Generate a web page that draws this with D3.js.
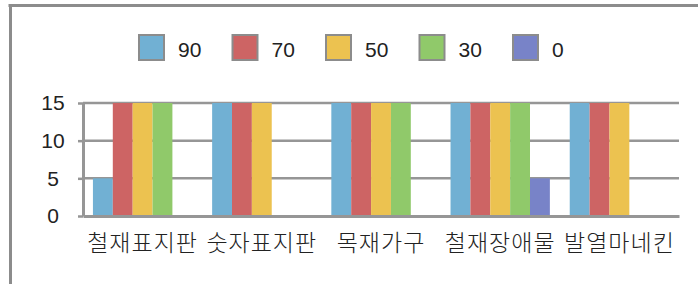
<!DOCTYPE html>
<html>
<head>
<meta charset="utf-8">
<script src="https://cdn.jsdelivr.net/npm/d3@7"></script>
<style>
  body { margin: 0; background: #fff; }
  svg { display: block; }
</style>
</head>
<body>
<div class="chart"></div>
<script>
const categories = ["철재표지판", "숫자표지판", "목재가구", "철재장애물", "발열마네킨"]
const seriesNames = ["90", "70", "50", "30", "0"]
const values90 = [5, 15, 15, 15, 15]
const values70 = [15, 15, 15, 15, 15]
const values50 = [15, 15, 15, 15, 15]
const values30 = [15, 0, 15, 15, 0]
const values0 = [0, 0, 0, 5, 0]
const yTicks = [0, 5, 10, 15]

const seriesValues = [values90, values70, values50, values30, values0]
const colors = ["#71b0d3", "#cd6464", "#ecc250", "#90c96a", "#7883c8"]
const grey = "#969696"

const width = 698
const height = 284
const margin = { top: 103, right: 19, bottom: 68, left: 83 }

const svg = d3.select(".chart").append("svg").attr("width", width).attr("height", height)

// frame (only top and left edges are visible)
svg.append("line").attr("x1", 8.5).attr("x2", width).attr("y1", 5.5).attr("y2", 5.5)
  .attr("stroke", "#8c8c8c").attr("stroke-width", 3)
svg.append("line").attr("x1", 10.5).attr("x2", 10.5).attr("y1", 4).attr("y2", height)
  .attr("stroke", "#8c8c8c").attr("stroke-width", 3)

const x0 = d3.scaleBand().domain(categories).range([margin.left, width - margin.right])
const x1 = d3.scaleBand().domain(seriesNames).range([0, x0.bandwidth()]).paddingOuter(0.5)
const yScale = d3.scaleLinear().domain([0, 15]).range([height - margin.bottom, margin.top])

// gridlines
svg.append("g").selectAll("line").data(yTicks.filter(d => d > 0)).join("line")
  .attr("x1", margin.left).attr("x2", width - margin.right)
  .attr("y1", d => yScale(d)).attr("y2", d => yScale(d))
  .attr("stroke", grey).attr("stroke-width", 2.5)

// bars
const groups = svg.append("g").selectAll("g").data(categories).join("g")
  .attr("transform", d => `translate(${x0(d)},0)`)

groups.selectAll("rect")
  .data((c, ci) => seriesNames.map((s, si) => ({ s, si, v: seriesValues[si][ci] })))
  .join("rect")
  .attr("x", d => x1(d.s))
  .attr("width", x1.bandwidth())
  .attr("y", d => yScale(d.v))
  .attr("height", d => yScale(0) - yScale(d.v))
  .attr("fill", d => colors[d.si])

// y axis
const yAxis = d3.axisLeft(yScale).tickValues(yTicks).tickSizeInner(5).tickSizeOuter(0).tickFormat(d3.format("d"))
const yAxisGroup = svg.append("g").attr("transform", `translate(${margin.left},0)`).call(yAxis)
yAxisGroup.select(".domain").attr("stroke", grey).attr("stroke-width", 3)
yAxisGroup.selectAll(".tick line").attr("stroke", grey).attr("stroke-width", 2.5)
yAxisGroup.selectAll(".tick text")
  .attr("x", -30).attr("text-anchor", "middle")
  .attr("font-family", "'Liberation Sans', Arial, sans-serif").attr("font-size", 21)
  .attr("fill", "#222")

// x axis
const xAxis = d3.axisBottom(x0).tickSize(0).tickPadding(0)
const xAxisGroup = svg.append("g").attr("transform", `translate(0,${yScale(0)})`).call(xAxis)
xAxisGroup.select(".domain").attr("stroke", grey).attr("stroke-width", 3)
xAxisGroup.selectAll(".tick text")
  .attr("y", 35).attr("dy", 0)
  .attr("font-family", "'Noto Sans CJK KR', sans-serif").attr("font-size", 23)
  .attr("font-weight", 300).attr("letter-spacing", 1)
  .attr("fill", "#222")

// legend
const legend = svg.append("g").selectAll("g").data(seriesNames).join("g")
  .attr("transform", (d, i) => `translate(${138 + i * 93.5},34)`)
legend.append("rect").attr("x", 1).attr("y", 1).attr("width", 25).attr("height", 25)
  .attr("fill", (d, i) => colors[i]).attr("stroke", "#8c8c8c").attr("stroke-width", 2)
legend.append("text").attr("x", 40).attr("y", 22.5).text(d => d)
  .attr("font-family", "'Liberation Sans', Arial, sans-serif").attr("font-size", 21)
  .attr("fill", "#222")
</script>
</body>
</html>
